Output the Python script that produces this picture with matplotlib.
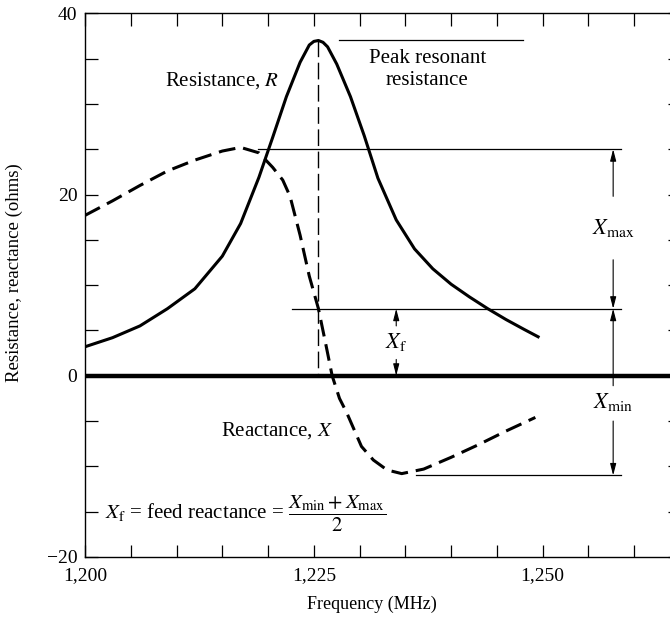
import matplotlib
matplotlib.use("Agg")
from matplotlib import pyplot as plt
from matplotlib.ticker import MultipleLocator, FixedLocator

plt.rcParams['font.family'] = ['Liberation Serif', 'DejaVu Serif']
plt.rcParams['mathtext.fontset'] = 'stix'

# resistance curve R (solid)
freq_r = [1200, 1203, 1206, 1209, 1212, 1215, 1217, 1219, 1220.5, 1222, 1223.5,
          1224.5, 1225, 1225.5, 1226, 1226.5, 1227.5, 1229, 1230.5, 1232, 1234,
          1236, 1238, 1240, 1242, 1244, 1246, 1248, 1249.5]
res_r = [3.2, 4.2, 5.5, 7.4, 9.6, 13.2, 16.8, 21.9, 26.3, 30.8, 34.6,
         36.5, 36.9, 37.0, 36.8, 36.3, 34.4, 30.8, 26.5, 21.8, 17.2,
         14.0, 11.8, 10.1, 8.7, 7.4, 6.2, 5.1, 4.3]

# reactance curve X (dashed)
freq_x = [1200, 1203, 1206, 1209, 1212, 1215, 1217, 1219, 1220.5, 1221.6, 1222.4,
          1223.5, 1224.5, 1225.5, 1226.3, 1227, 1227.8, 1228.6, 1230.2, 1231.5,
          1233, 1234.6, 1237, 1240, 1243, 1246, 1249.2]
react_x = [17.7, 19.3, 21.0, 22.6, 23.8, 24.8, 25.2, 24.6, 23.0, 21.6, 19.8,
           15.5, 11.0, 7.4, 3.5, 0.0, -2.5, -4.1, -7.8, -9.3,
           -10.4, -10.8, -10.3, -9.0, -7.6, -6.1, -4.6]

f_peak = 1225.5
r_peak = 37.0
x_max = 25.0
x_f = 7.4
x_min = -11.0

fig = plt.figure(figsize=(6.70, 6.19), dpi=100)
ax = fig.add_axes([0.1269, 0.1002, 0.888, 0.8783])
ax.set_xlim(1200, 1265)
ax.set_ylim(-20, 40)

ax.axhline(0, color='black', lw=3.2, zorder=3)
ax.plot(freq_r, res_r, color='black', lw=2.2, solid_joinstyle='round')
ax.plot(freq_x, react_x, color='black', lw=2.2, dashes=(5.5, 2.6))

# peak marker lines
ax.plot([f_peak, f_peak], [r_peak, 0], color='black', lw=1.0, dashes=(12, 4))
ax.plot([1227.8, 1247.9], [r_peak, r_peak], color='black', lw=0.9)

# reference levels
lw_thin = 0.9
ax.plot([1218.9, 1258.6], [x_max, x_max], color='black', lw=lw_thin)
ax.plot([1222.6, 1258.6], [x_f, x_f], color='black', lw=lw_thin)
ax.plot([1236.2, 1258.6], [x_min, x_min], color='black', lw=lw_thin)

arrow = dict(arrowstyle='-|>,head_length=0.7,head_width=0.18', color='black',
             lw=0.8, shrinkA=0, shrinkB=0)

def arr(x, y0, y1):
    ax.annotate('', xy=(x, y1), xytext=(x, y0), arrowprops=arrow)

xa = 1257.7
arr(xa, 19.8, x_max)
arr(xa, 12.8, x_f)
ax.text(xa, 16.3, r'$X_{\mathrm{max}}$', ha='center', va='center', fontsize=16)
arr(xa, -1.1, x_f)
arr(xa, -5.0, x_min)
ax.text(xa, -2.9, r'$X_{\mathrm{min}}$', ha='center', va='center', fontsize=16)

xb = 1234.0
arr(xb, 5.5, x_f)
arr(xb, 1.8, 0)
ax.text(xb, 3.7, r'$X_{\mathrm{f}}$', ha='center', va='center', fontsize=16)

ax.text(1237.4, 33.8, 'Peak resonant\nresistance', ha='center', va='center',
        fontsize=15, linespacing=1.25)
ax.text(1215.0, 32.6, r'Resistance, $R$', ha='center', va='center', fontsize=15)
ax.text(1221.0, -6.1, r'Reactance, $X$', ha='center', va='center', fontsize=15)
ax.text(1202.2, -15.2,
        r'$X_{\mathrm{f}}$ = feed reactance = $\dfrac{X_{\mathrm{min}} + X_{\mathrm{max}}}{2}$',
        ha='left', va='center', fontsize=15)

ax.xaxis.set_major_locator(FixedLocator([1200, 1225, 1250]))
ax.xaxis.set_minor_locator(MultipleLocator(5))
ax.set_xticklabels(['1,200', '1,225', '1,250'])
ax.yaxis.set_major_locator(FixedLocator([-20, 0, 20, 40]))
ax.yaxis.set_minor_locator(MultipleLocator(5))
ax.set_yticklabels(['\u221220', '0', '20', '40'])
ax.tick_params(which='both', direction='in', length=9, width=0.9,
               top=True, right=True, labelsize=14)
ax.tick_params(axis='x', pad=7)
ax.tick_params(axis='y', pad=5.5)
for s in ax.spines.values():
    s.set_linewidth(1.0)

ax.set_xlabel('Frequency (MHz)', fontsize=13)
ax.set_ylabel('Resistance, reactance (ohms)', fontsize=13.5)
ax.xaxis.set_label_coords(0.482, -0.072)
ax.yaxis.set_label_coords(-0.104, 0.523)

fig.savefig('out.png', dpi=100)
